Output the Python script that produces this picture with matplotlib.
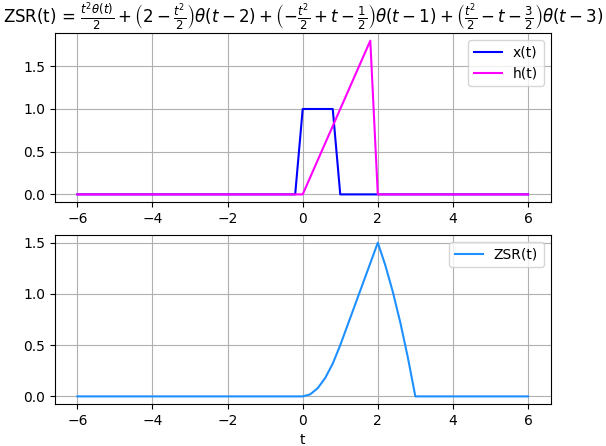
import matplotlib
matplotlib.use('Agg')
import matplotlib.pyplot as plt

# x(t): rectangular pulse, breakpoints
x_t = [-6.0, -0.2, 0.0, 0.8, 1.0, 6.0]
x_vals = [0.0, 0.0, 1.0, 1.0, 0.0, 0.0]

# h(t): ramp up to 1.8, then drops
h_t = [-6.0, 0.0, 1.8, 2.0, 6.0]
h_vals = [0.0, 0.0, 1.8, 0.0, 0.0]

# ZSR(t): values
zsr_t = [-6.0, 0.0, 0.2, 0.4, 0.6, 0.8, 1.0, 1.2, 1.4, 1.6, 1.8,
         2.0, 2.2, 2.4, 2.6, 2.8, 3.0, 6.0]
zsr_vals = [0.0, 0.0, 0.02, 0.08, 0.18, 0.32, 0.5, 0.7, 0.9, 1.1, 1.3,
            1.5, 1.28, 1.02, 0.72, 0.38, 0.0, 0.0]

title = (r'ZSR(t) = $\frac{t^2\theta(t)}{2} + \left(2 - \frac{t^2}{2}\right)\theta(t-2)'
         r' + \left(-\frac{t^2}{2} + t - \frac{1}{2}\right)\theta(t-1)'
         r' + \left(\frac{t^2}{2} - t - \frac{3}{2}\right)\theta(t-3)$')

fig, (ax1, ax2) = plt.subplots(2, 1, figsize=(6.06, 4.46), dpi=100)
fig.subplots_adjust(left=0.0905, right=0.9085, top=0.926, bottom=0.094, hspace=0.195)

ax1.plot(x_t, x_vals, color='blue', label='x(t)')
ax1.plot(h_t, h_vals, color='magenta', label='h(t)')
ax1.set_title(title)
ax1.grid(True)
ax1.legend(loc='upper right')

ax2.plot(zsr_t, zsr_vals, color='dodgerblue', label='ZSR(t)')
ax2.set_xlabel('t')
ax2.grid(True)
ax2.legend(loc='upper right')

fig.savefig('out.png', dpi=100)
